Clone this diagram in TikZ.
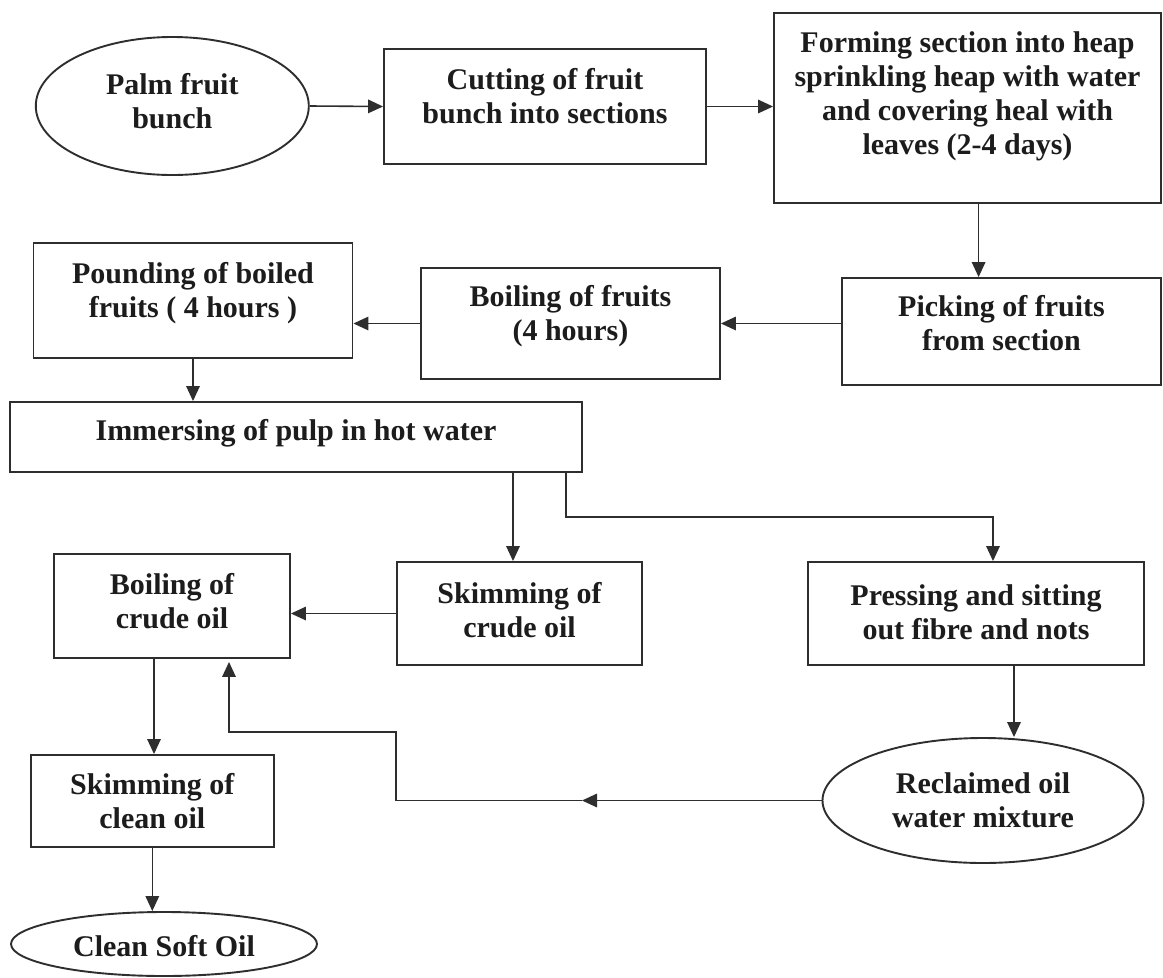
\documentclass[tikz,border=0pt]{standalone}
\usepackage{fontspec}
\setmainfont{Liberation Serif}
\usetikzlibrary{arrows.meta,shapes.geometric,calc}
\definecolor{ink}{HTML}{2E2E2E}
\definecolor{txtc}{HTML}{1C1C1C}
\begin{document}
\begin{tikzpicture}[x=1pt,y=-1pt,
  box/.style={draw=ink,line width=1.9pt,rectangle,inner sep=0pt},
  oval/.style={draw=ink,line width=1.9pt,ellipse,inner sep=0pt},
  txt/.style={font=\fontsize{30}{34}\selectfont\bfseries,text=txtc,align=center,inner sep=0pt},
  flow/.style={draw=ink,line width=1.6pt,-{Triangle[length=15pt,width=13.5pt]}},
  conn/.style={draw=ink,line width=1.6pt}]
\useasboundingbox[fill=white] (0,0) rectangle (1163,978);

% nodes
\node[oval,minimum width=273pt,minimum height=138pt,
  label={[txt,yshift=5pt]center:{Palm fruit\\bunch}}] (palm) at (172.3,106) {};
\node[box,minimum width=322pt,minimum height=115pt,
  label={[txt,yshift=10pt]center:{Cutting of fruit\\bunch into sections}}] (cut) at (545,106.5) {};
\node[box,minimum width=387pt,minimum height=190pt,
  label={[txt,yshift=12pt]center:{Forming section into heap\\sprinkling heap with water\\and covering heal with\\leaves (2-4 days)}}] (form) at (967.5,108) {};
\node[box,minimum width=319pt,minimum height=107pt,
  label={[txt,yshift=8pt]center:{Picking of fruits\\from section}}] (pick) at (1001.5,331.5) {};
\node[box,minimum width=299pt,minimum height=111pt,
  label={[txt,yshift=7pt]center:{Boiling of fruits\\(4 hours)}}] (boilf) at (570.5,323.5) {};
\node[box,minimum width=319pt,minimum height=115pt,
  label={[txt,yshift=7pt]center:{Pounding of boiled\\fruits ( 4 hours )}}] (pound) at (193,300.5) {};
\node[box,minimum width=572pt,minimum height=70pt,
  label={[txt,yshift=4pt]center:{Immersing of pulp in hot water}}] (imm) at (296,437) {};
\node[box,minimum width=236pt,minimum height=104pt,
  label={[txt,yshift=5pt]center:{Boiling of\\crude oil}}] (boilc) at (172,606) {};
\node[box,minimum width=245pt,minimum height=103pt,
  label={[txt,yshift=3pt]center:{Skimming of\\crude oil}}] (skimc) at (519.5,613.5) {};
\node[box,minimum width=336pt,minimum height=103pt,
  label={[txt,yshift=1pt]center:{Pressing and sitting\\out fibre and nots}}] (press) at (976,613.5) {};
\node[box,minimum width=243pt,minimum height=92pt,
  label={[txt]center:{Skimming of\\clean oil}}] (skimcl) at (152.3,801) {};
\node[oval,minimum width=306pt,minimum height=64pt,
  label={[txt,yshift=-2pt]center:{Clean Soft Oil}}] (soft) at (164,944) {};
\node[oval,minimum width=321pt,minimum height=125pt,
  label={[txt]center:{Reclaimed oil\\water mixture}}] (recl) at (983,800.5) {};

% helper coordinates for connector positions
\coordinate (fx) at (978.6,0);
\coordinate (ix) at (513,0);
\coordinate (bx) at (565.8,0);
\coordinate (by) at (0,517);
\coordinate (px) at (993,0);
\coordinate (cx) at (154,0);
\coordinate (rx) at (1014,0);
\coordinate (mx) at (582,0);
\coordinate (kx) at (396,0);
\coordinate (ky) at (0,732);
\coordinate (ux) at (229,0);

% connectors
\draw[flow] (palm.east) -- (cut.west);
\draw[flow] (cut.east) -- (cut.east -| form.west);
\draw[flow] (form.south -| fx) -- (pick.north -| fx);
\draw[flow] (pick.west |- boilf.east) -- (boilf.east);
\draw[flow] (boilf.west) -- (boilf.west -| pound.east);
\draw[flow] (pound.south) -- (pound.south |- imm.north);
\draw[flow] (imm.south -| ix) -- (skimc.north -| ix);
\draw[flow] (imm.south -| bx) -- (bx |- by) -- (px |- by) -- (press.north -| px);
\draw[flow] (skimc.west) -- (skimc.west -| boilc.east);
\draw[flow] (boilc.south -| cx) -- (skimcl.north -| cx);
\draw[flow] (skimcl.south) -- (skimcl.south |- soft.north);
\draw[flow] (press.south -| rx) -- (recl.north -| rx);
\draw[flow] (recl.west) -- (recl.west -| mx);
\draw[flow] (recl.west -| mx) -- (recl.west -| kx) -- (kx |- ky) -- (ux |- ky) -- ([yshift=-3pt]boilc.south -| ux);
\end{tikzpicture}
\end{document}
